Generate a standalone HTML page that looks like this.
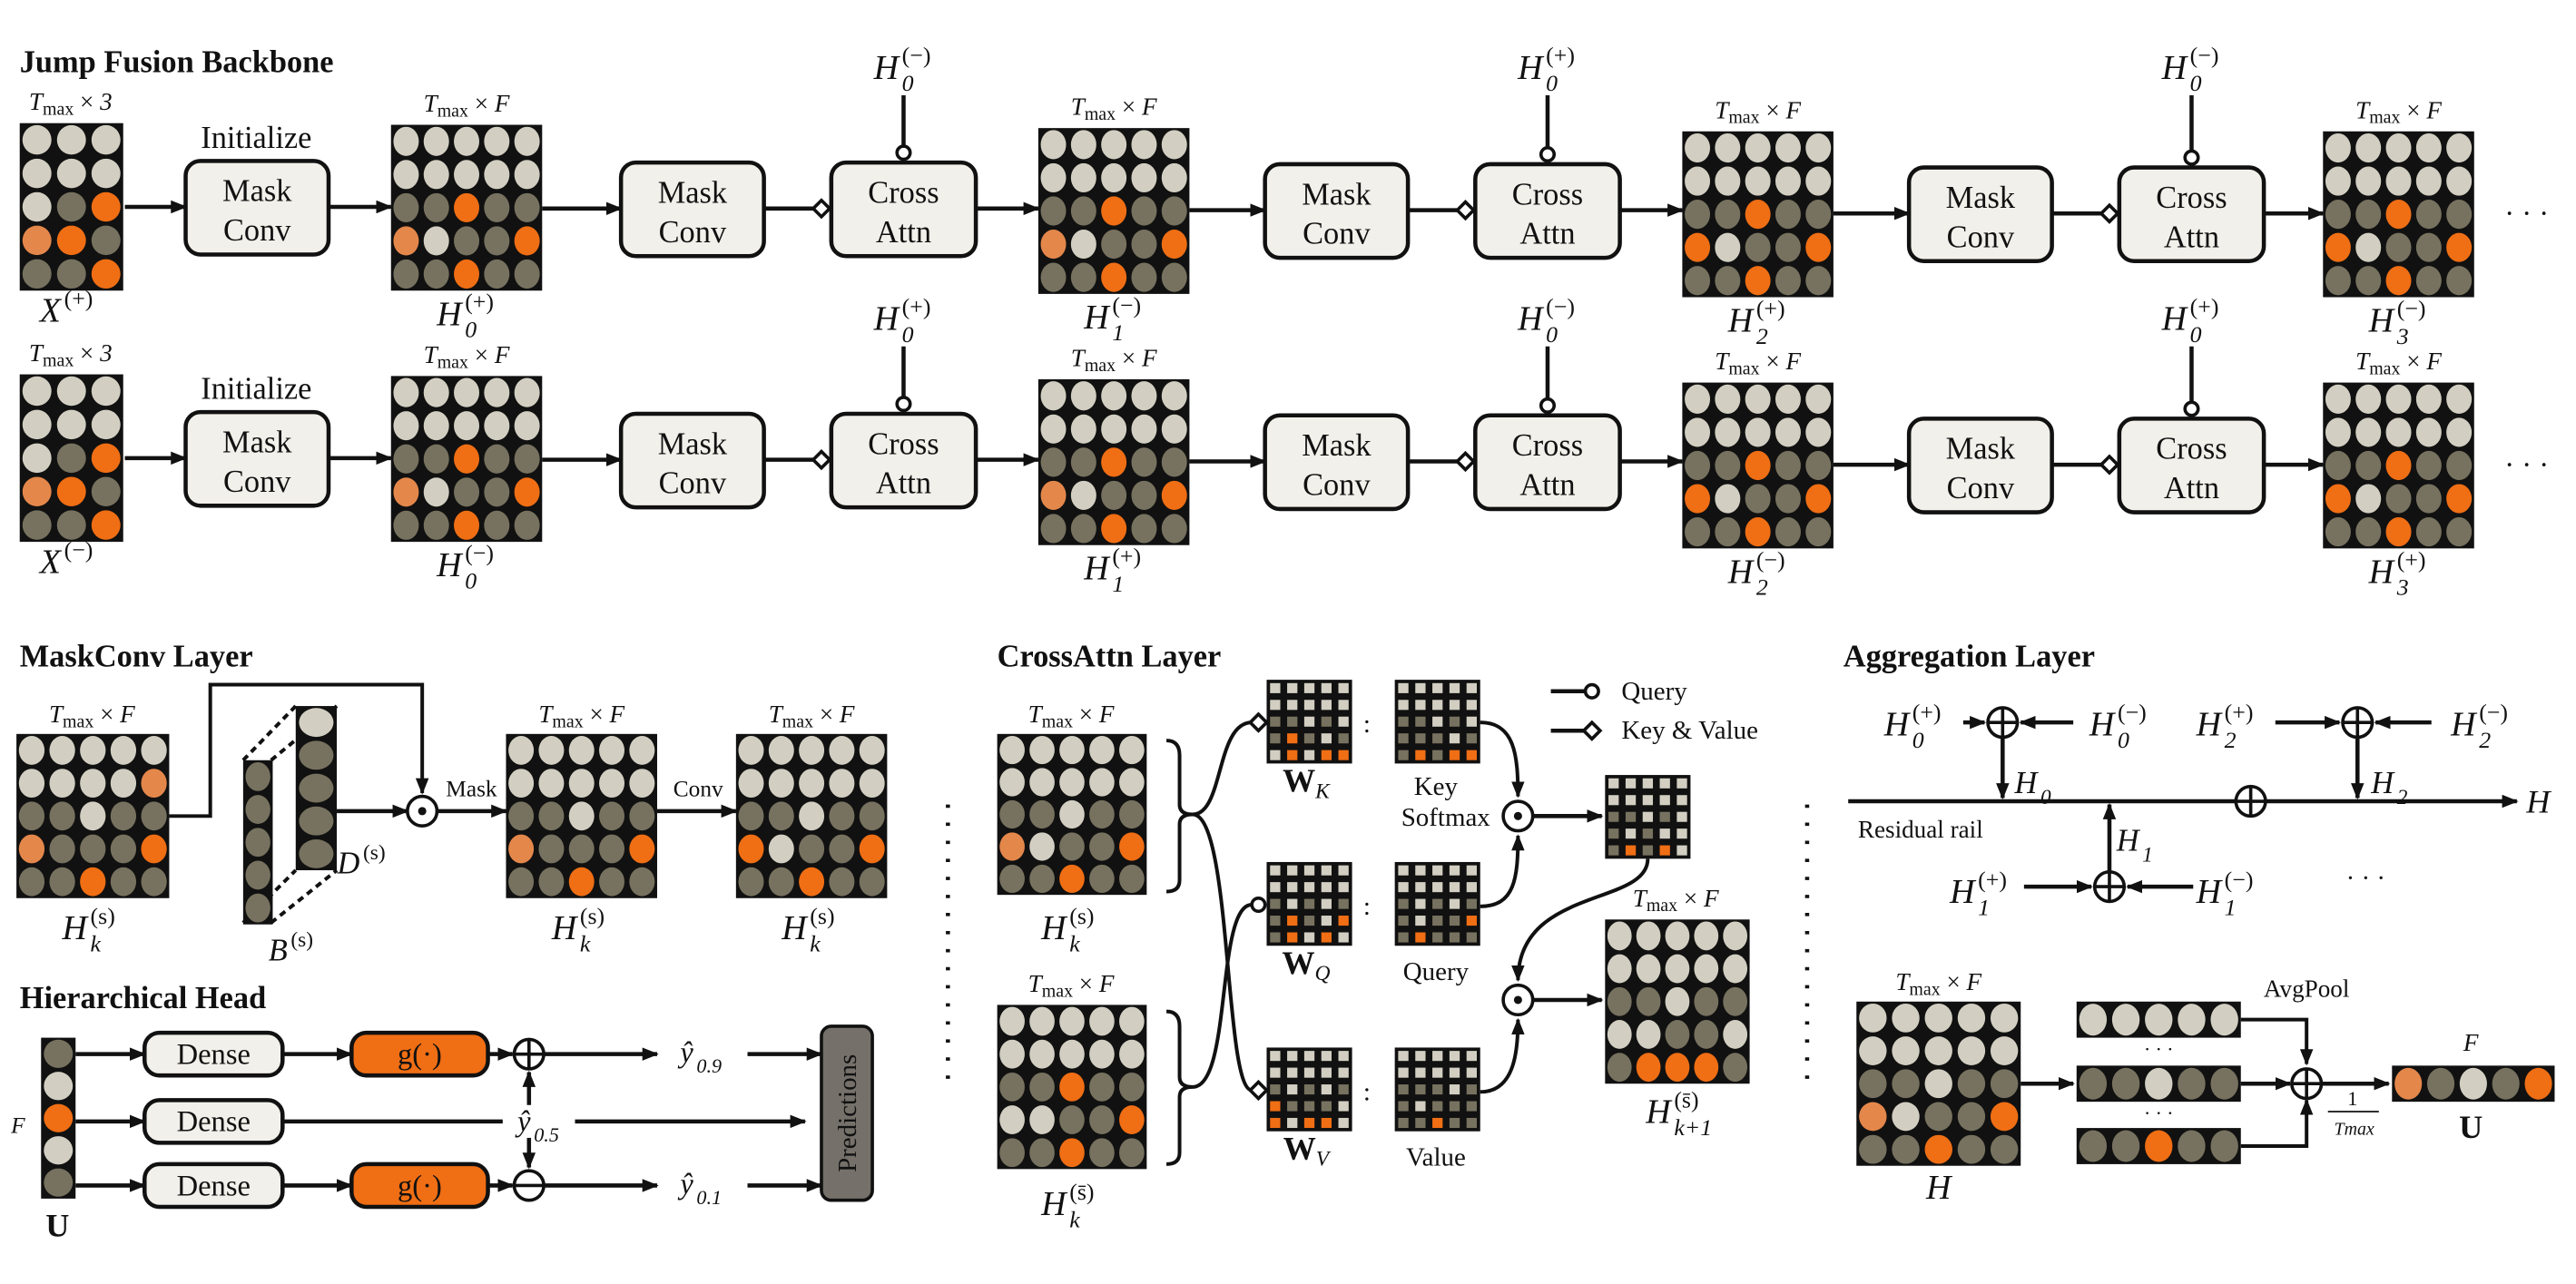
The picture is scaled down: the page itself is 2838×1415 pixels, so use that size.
<!DOCTYPE html>
<html><head><meta charset="utf-8">
<style>
html,body{margin:0;padding:0;background:#fff;}
svg{display:block;}
text{font-family:"Liberation Serif",serif;fill:#111;}
.t{font-weight:bold;font-size:19px;}
</style></head>
<body>
<svg id="fig" xmlns="http://www.w3.org/2000/svg" width="2838" height="1415" viewBox="0 0 1568 782" preserveAspectRatio="none" font-family="Liberation Serif, serif">
<defs>
<marker id="ah" markerWidth="10" markerHeight="8" refX="9" refY="4" orient="auto" markerUnits="userSpaceOnUse"><path d="M0,0 L10,4 L0,8 Z" fill="#111"/></marker>
</defs>
<text class="t" x="12" y="44">Jump Fusion Backbone</text>
<text class="t" x="12" y="406">MaskConv Layer</text>
<text class="t" x="12" y="614">Hierarchical Head</text>
<text class="t" x="607" y="406">CrossAttn Layer</text>
<text class="t" x="1122" y="406">Aggregation Layer</text>
</svg>
<script>
// ---- cell patterns (L light, D dark, O orange, P pale orange) ----
const patX = ["LLL","LLL","LDO","POD","DDO"];
const patH0 = ["LLLLL","LLLLL","DDODD","PLDDO","DDODD"];
const patH1 = ["LLLLL","LLLLL","DDODD","PLDDO","DDODD"];
const patH2 = ["LLLLL","LLLLL","DDODD","OLDDO","DDODD"];
const patH3 = ["LLLLL","LLLLL","DDODD","OLDDO","DDODD"];
const patMC1 = ["LLLLL","LLLLP","DDLDD","PDDDO","DDODD"];
const patMC2 = ["LLLLL","LLLLL","DDLDD","PDDDO","DDODD"];
const patMC3 = ["LLLLL","LLLLL","DDLDD","OLDDO","DDODD"];
const patCAs = ["LLLLL","LLLLL","DDLDD","PLDDO","DDODD"];
const patCAsb = ["LLLLL","LLLLL","DDODD","LLDDO","DDODD"];
const patWK = ["LLLLL","LLLLL","DDLDL","DODLD","LOLOO"];
const patKey = ["LLLLL","LLLLL","DDLDL","DDDLD","DODOO"];
const patWQ = ["LLLLL","LLLLL","DLDLD","DODLO","DOLOL"];
const patQuery = ["LLLLL","LLLLL","DLDLD","DLDDO","DODDD"];
const patWV = ["LLLLL","LLLLL","DLDLD","ODDDL","OLOOL"];
const patValue = ["LLLLL","LLLLL","DDDLD","DLDDD","DDODD"];
const patAttn = ["LLLLL","LLLLL","DDLDL","DLDLL","DODOL"];
const patNext = ["LLLLL","LLLLL","DDLDD","LLDDL","DOOOD"];
const patAggH = ["LLLLL","LLLLL","DDLDD","PLDDO","DDODD"];
const patBar1 = ["LLLLL"];
const patBar2 = ["DDLDD"];
const patBar3 = ["DDODD"];
const patU = ["PDLDO"];
const patUv = ["D","L","O","L","D"];
const patD = ["L","D","D","D","D"];
const patB = ["D","D","D","D","D"];

const COL = {L:"#d2cfc2", D:"#77725f", O:"#f06e14", P:"#e4874b"};
const NS = "http://www.w3.org/2000/svg";
const svg = document.getElementById("fig");
function el(tag, attrs, parent){
  const e = document.createElementNS(NS, tag);
  for (const k in attrs) e.setAttribute(k, attrs[k]);
  (parent || svg).appendChild(e);
  return e;
}
function grid(x, y, w, h, pat, name, square){
  const g = el("g", {});
  
  
  el("rect", {x:x, y:y, width:w, height:h, fill:"#111"}, g);
  const rows = pat.length, cols = pat[0].length;
  const cw = w/cols, ch = h/rows;
  for (let r=0; r<rows; r++) for (let c=0; c<cols; c++){
    const col = COL[pat[r][c]];
    if (square){
      el("rect", {x:x+c*cw+cw*0.2, y:y+r*ch+ch*0.2, width:cw*0.6, height:ch*0.6, fill:col}, g);
    } else {
      el("ellipse", {cx:x+(c+0.5)*cw, cy:y+(r+0.5)*ch, rx:cw*0.42, ry:ch*0.44, fill:col}, g);
    }
  }
  return g;
}
function txt(x, y, s, size, name, extra){
  const t = el("text", Object.assign({x:x, y:y, "font-size":size, "text-anchor":"middle"}, extra||{}));
  t.textContent = s;
  
  
  return t;
}
function tmax(cx, y, suffix, name){
  const t = el("text", {x:cx, y:y, "font-size":15, "text-anchor":"middle"});
  
  
  const a = el("tspan", {"font-style":"italic"}, t); a.textContent = "T";
  const b = el("tspan", {"font-size":11, dy:3}, t); b.textContent = "max";
  const c = el("tspan", {dy:-3}, t); c.textContent = " × ";
  const d = el("tspan", {"font-style":"italic"}, t); d.textContent = suffix;
}
function mlabel(cx, y, base, sub, sup, name, size){
  size = size || 21;
  const g = el("g", {});
  
  
  const b = el("text", {x:cx-3, y:y, "font-size":size, "font-style":"italic", "text-anchor":"end"}, g); b.textContent = base;
  if (sup){ const s = el("text", {x:cx-1, y:y-size*0.45, "font-size":size*0.68, "text-anchor":"start"}, g); s.textContent = sup; }
  if (sub){ const s = el("text", {x:cx-1, y:y+size*0.35, "font-size":size*0.68, "font-style":"italic", "text-anchor":"start"}, g); s.textContent = sub; }
  return g;
}
function line(x1,y1,x2,y2,name,arrow,w){
  const l = el("line", {x1:x1,y1:y1,x2:x2,y2:y2,stroke:"#111","stroke-width":w||2.5});
  if (arrow) l.setAttribute("marker-end","url(#ah)");
  
  
  return l;
}
function path(d,name,arrow){
  const p = el("path", {d:d, fill:"none", stroke:"#111", "stroke-width":2.2});
  if (arrow) p.setAttribute("marker-end","url(#ah)");
  
  
  return p;
}
function box(x,y,w,h,l1,l2,name,fill){
  const g = el("g", {});
  
  
  el("rect", {x:x,y:y,width:w,height:h,rx:9,fill:fill||"#f2f0ea",stroke:"#111","stroke-width":2.5}, g);
  if (l2){
    const a = el("text",{x:x+w/2,y:y+h/2-4,"font-size":19,"text-anchor":"middle"},g); a.textContent=l1;
    const b = el("text",{x:x+w/2,y:y+h/2+20,"font-size":19,"text-anchor":"middle"},g); b.textContent=l2;
  } else {
    const a = el("text",{x:x+w/2,y:y+h/2+6,"font-size":18,"text-anchor":"middle"},g); a.textContent=l1;
  }
  return g;
}
function diamond(x,y,name){
  const p = el("path",{d:`M${x-5},${y} L${x},${y-5} L${x+5},${y} L${x},${y+5} Z`,fill:"#fff",stroke:"#111","stroke-width":2});
  
  
}
function circ(x,y,r,name){
  const c = el("circle",{cx:x,cy:y,r:r,fill:"#fff",stroke:"#111","stroke-width":2});
  
  
}
function odot(x,y,name){
  circ(x,y,9,name);
  const d = el("circle",{cx:x,cy:y,r:2.5,fill:"#111"});
  
  
}
function oplus(x,y,name,minus){
  circ(x,y,9,name);
  line(x-9,y,x+9,y,name+'-h',false,2);
  if (!minus) line(x,y-9,x,y+9,name+'-v',false,2);
}

// ---- Backbone rows ----
const rows = [
  {dy:0, xs:"(+)", pats:[patX,patH0,patH1,patH2,patH3], labs:["(+)","(−)","(+)","(−)"], q:["(−)","(+)","(−)"], gy:[75,76,78,80,80]},
  {dy:153, xs:"(−)", pats:[patX,patH0,patH1,patH2,patH3], labs:["(−)","(+)","(−)","(+)"], q:["(+)","(−)","(+)"], gy:[75,76,78,80,80]}
];
const gx = [238,632,1024,1414];
const mcx = [113,378,770,1162];
const cax = [506,898,1290];
const by = [98,99,100,102];
rows.forEach((R,ri)=>{
  const d = R.dy;
  grid(12, 75+d, 63, 102, R.pats[0], "input-grid-row"+(ri+1), false);
  tmax(43, 67+d, "3", "input-dims-label");
  mlabel(40, 196+d, "X", null, R.xs, "input-x-label");
  for (let i=0;i<4;i++){
    grid(gx[i], R.gy[i+1]+d, 92, 101, R.pats[i+1], "hidden-grid-"+i, false);
    tmax(gx[i]+46, R.gy[i+1]-8+d, "F", "hidden-dims-label");
    mlabel(gx[i]+46, R.gy[i+1]+122+d, "H", String(i), R.labs[i], "hidden-state-label");
  }
  txt(156, 90+d, "Initialize", 19, "initialize-label");
  box(mcx[0], by[0]+d, 87, 57, "Mask", "Conv", "init-maskconv-box");
  line(76, 126+d, mcx[0], 126+d, "arrow-input", true);
  line(mcx[0]+87, 126+d, gx[0], 126+d, "arrow-init", true);
  for (let i=1;i<4;i++){
    const y0 = by[i]+d, cy = y0+28;
    line(gx[i-1]+92, cy, mcx[i], cy, "arrow-to-maskconv", true);
    box(mcx[i], y0, 87, 57, "Mask", "Conv", "maskconv-box");
    line(mcx[i]+87, cy, cax[i-1], cy, "kv-line", false);
    diamond(cax[i-1]-6, cy, "kv-diamond");
    box(cax[i-1], y0, 88, 57, "Cross", "Attn", "crossattn-box");
    line(cax[i-1]+88, cy, gx[i], cy, "arrow-to-hidden", true);
    const qx = cax[i-1]+44;
    line(qx, 58+d, qx, y0-10, "query-line", false);
    circ(qx, y0-6, 4, "query-circle");
    mlabel(qx, 48+d, "H", "0", R.q[i-1], "query-label");
  }
  txt(1538, 136+d, "· · ·", 18, "continuation-dots");
});

// ---- MaskConv layer ----
grid(10, 447, 93, 100, patMC1, "maskconv-input-grid", false);
tmax(56, 440, "F", "maskconv-dims-1");
mlabel(56, 572, "H", "k", "(s)", "maskconv-in-label");
path("M103,497 L128,497 L128,417 L257,417 L257,483", "skip-path", true);
path("M148,463 L180,430 M165,463 L205,430 M148,562 L180,530 M165,562 L205,530", "slab-dash", false).setAttribute("stroke-dasharray","4,3");
grid(180, 430, 25, 100, patD, "d-slab", false);
grid(148, 463, 18, 100, patB, "b-slab", false);
mlabel(222, 532, "D", null, "(s)", "d-label", 19);
mlabel(178, 585, "B", null, "(s)", "b-label", 19);
line(205, 494, 248, 494, "arrow-to-mask", true);
odot(257, 494, "mask-odot");
txt(287, 485, "Mask", 14, "mask-label");
line(266, 494, 308, 494, "arrow-mask-out", true);
grid(308, 447, 92, 100, patMC2, "masked-grid", false);
tmax(354, 440, "F", "maskconv-dims-2");
mlabel(354, 572, "H", "k", "(s)", "masked-label");
txt(425, 485, "Conv", 14, "conv-label");
line(400, 494, 448, 494, "arrow-conv", true);
grid(448, 447, 92, 100, patMC3, "conv-grid", false);
tmax(494, 440, "F", "maskconv-dims-3");
mlabel(494, 572, "H", "k", "(s)", "conv-out-label");

// ---- Hierarchical head ----
grid(25, 632, 21, 98, patUv, "u-vector", false);
txt(11, 690, "F", 14, "u-f-label", {"font-style":"italic"});
txt(35, 753, "U", 20, "u-label", {"font-weight":"bold"});
const hy = [642, 683, 722];
hy.forEach((y,i)=>{ line(46, y, 88, y, "head-arrow-"+i, true); box(88, y-13, 84, 26, "Dense", null, "dense-box-"+i); });
[642,722].forEach((y,i)=>{ line(172, y, 214, y, "g-arrow", true); box(214, y-13, 83, 26, "g(·)", null, "g-box-"+i, "#f06e14"); line(297, y, 312, y, "g-out", true); });
oplus(322, 642, "oplus-09"); oplus(322, 722, "ominus-01", true);
line(172, 683, 306, 683, "median-line-a", false);
line(350, 683, 490, 683, "median-line-b", true);
line(322, 673, 322, 653, "up-arrow", true); line(322, 693, 322, 711, "down-arrow", true);
mlabel(326, 689, "ŷ", "0.5", null, "y05-label", 18);
line(331, 642, 400, 642, "arrow-09", true); mlabel(425, 647, "ŷ", "0.9", null, "y09-label", 18); line(455, 642, 500, 642, "arrow-pred-09", true);
line(331, 722, 400, 722, "arrow-01", true); mlabel(425, 727, "ŷ", "0.1", null, "y01-label", 18); line(455, 722, 500, 722, "arrow-pred-01", true);
const pb = el("rect",{x:500,y:625,width:31,height:106,rx:6,fill:"#75716a",stroke:"#111","stroke-width":2});


txt(0, 0, "Predictions", 16, "predictions-label", {transform:"translate(521,678) rotate(-90)"});

[577,1100].forEach((x,i)=>{ const l = line(x, 490, x, 662, "separator-"+i, false, 2.5); l.setAttribute("stroke-dasharray","2,9"); });

// ---- CrossAttn layer ----
grid(607, 447, 91, 98, patCAs, "ca-input-s", false);
tmax(652, 440, "F", "ca-dims-1");
mlabel(652, 572, "H", "k", "(s)", "ca-s-label");
grid(607, 612, 91, 100, patCAsb, "ca-input-sbar", false);
tmax(652, 604, "F", "ca-dims-2");
mlabel(652, 740, "H", "k", "(s̄)", "ca-sbar-label");
path("M710,451 Q718,451 718,460 L718,490 Q718,496 726,496 Q718,496 718,502 L718,536 Q718,543 710,543", "brace-1", false);
path("M710,616 Q718,616 718,625 L718,656 Q718,662 726,662 Q718,662 718,668 L718,702 Q718,709 710,709", "brace-2", false);
path("M726,496 C745,496 740,440 762,440", "to-wk", false);
path("M726,496 C750,496 745,664 762,664", "to-wv", false);
path("M726,662 C750,662 740,551 762,551", "to-wq", false);
diamond(766, 440, "wk-diamond"); circ(766, 551, 4, "wq-circle"); diamond(766, 664, "wv-diamond");
const mats = [[414,patWK,patKey,"K"],[525,patWQ,patQuery,"Q"],[638,patWV,patValue,"V"]];
mats.forEach((m,i)=>{
  grid(771, m[0], 52, 51, m[1], "w-"+m[3], true);
  grid(849, m[0], 52, 51, m[2], "kqv-matrix-"+m[3], true);
  txt(832, m[0]+32, ":", 16, "colon");
  const t = el("text",{x:795,y:m[0]+68,"font-size":20,"font-weight":"bold","text-anchor":"middle"});
  
  
  t.textContent = "W"; const s = el("tspan",{"font-size":13,"font-weight":"normal","font-style":"italic",dy:4},t); s.textContent = m[3];
});
txt(874, 484, "Key", 16, "key-label");
txt(880, 503, "Softmax", 16, "softmax-label");
txt(874, 597, "Query", 16, "query-mat-label");
txt(874, 710, "Value", 16, "value-mat-label");
path("M901,440 C922,440 924,460 924,485", "key-to-odot", true);
path("M901,552 C922,552 924,535 924,509", "query-to-odot", true);
path("M901,665 C922,665 924,640 924,621", "value-to-odot", true);
odot(924, 497, "softmax-odot");
line(933, 497, 975, 497, "arrow-attn", true);
grid(977, 472, 52, 51, patAttn, "attn-matrix", true);
path("M1003,523 C1003,552 924,540 924,597", "attn-down", true);
odot(924, 609, "value-odot");
line(933, 609, 975, 609, "arrow-next", true);
grid(977, 560, 88, 100, patNext, "next-hidden-grid", false);
tmax(1020, 552, "F", "ca-dims-3");
mlabel(1020, 684, "H", "k+1", "(s̄)", "next-label");
line(944, 421, 966, 421, "legend-query-line", false); circ(969, 421, 4, "legend-query-circle");
txt(987, 426, "Query", 16, "legend-query-text", {"text-anchor":"start"});
line(944, 445, 964, 445, "legend-kv-line", false); diamond(969, 445, "legend-kv-diamond");
txt(987, 450, "Key & Value", 16, "legend-kv-text", {"text-anchor":"start"});

// ---- Aggregation layer ----
line(1125, 488, 1532, 488, "residual-rail", true);
txt(1545, 495, "H", 20, "rail-h-label", {"font-style":"italic"});
txt(1169, 510, "Residual rail", 15, "residual-rail-label");
oplus(1219, 440, "agg-oplus-0"); oplus(1435, 440, "agg-oplus-2"); oplus(1370, 488, "rail-oplus"); oplus(1284, 540, "agg-oplus-1");
line(1195, 440, 1208, 440, "h0p-arrow", true); line(1262, 440, 1230, 440, "h0m-arrow", true);
line(1219, 449, 1219, 486, "h0-down", true);
mlabel(1165, 448, "H", "0", "(+)", "h0p"); mlabel(1290, 448, "H", "0", "(−)", "h0m");
mlabel(1243, 483, "H", "0", null, "h0-label", 19);
line(1385, 440, 1424, 440, "h2p-arrow", true); line(1480, 440, 1446, 440, "h2m-arrow", true);
line(1435, 449, 1435, 486, "h2-down", true);
mlabel(1355, 448, "H", "2", "(+)", "h2p"); mlabel(1510, 448, "H", "2", "(−)", "h2m");
mlabel(1460, 483, "H", "2", null, "h2-label", 19);
line(1232, 540, 1273, 540, "h1p-arrow", true); line(1335, 540, 1295, 540, "h1m-arrow", true);
line(1284, 531, 1284, 490, "h1-up", true);
mlabel(1305, 518, "H", "1", null, "h1-label", 19);
mlabel(1205, 550, "H", "1", "(+)", "h1p"); mlabel(1355, 550, "H", "1", "(−)", "h1m");
txt(1440, 540, "· · ·", 16, "agg-dots");
grid(1130, 610, 100, 100, patAggH, "agg-h-grid", false);
tmax(1180, 603, "F", "agg-dims");
txt(1180, 730, "H", 21, "agg-h-label", {"font-style":"italic"});
line(1230, 660, 1262, 660, "arrow-to-pool", true);
grid(1264, 610, 100, 22, patBar1, "pool-bar-1", false);
grid(1264, 649, 100, 22, patBar2, "pool-bar-2", false);
grid(1264, 687, 100, 22, patBar3, "pool-bar-3", false);
txt(1314, 643, "· · ·", 12, "bar-dots-1"); txt(1314, 682, "· · ·", 12, "bar-dots-2");
txt(1404, 607, "AvgPool", 15, "avgpool-label");
path("M1364,621 L1404,621 L1404,648", "bar1-to-sum", true);
line(1364, 660, 1394, 660, "bar2-to-sum", true);
path("M1364,698 L1404,698 L1404,670", "bar3-to-sum", true);
oplus(1404, 660, "pool-oplus");
line(1413, 660, 1454, 660, "arrow-to-u", true);
txt(1432, 673, "1", 12, "frac-num");
line(1417, 677, 1448, 677, "frac-bar", false, 1);
txt(1433, 691, "Tmax", 11, "frac-den", {"font-style":"italic"});
grid(1456, 649, 99, 22, patU, "u-output-bar", false);
txt(1504, 640, "F", 15, "u-f-top", {"font-style":"italic"});
txt(1504, 693, "U", 20, "u-out-label", {"font-weight":"bold"});
</script>
</body></html>
